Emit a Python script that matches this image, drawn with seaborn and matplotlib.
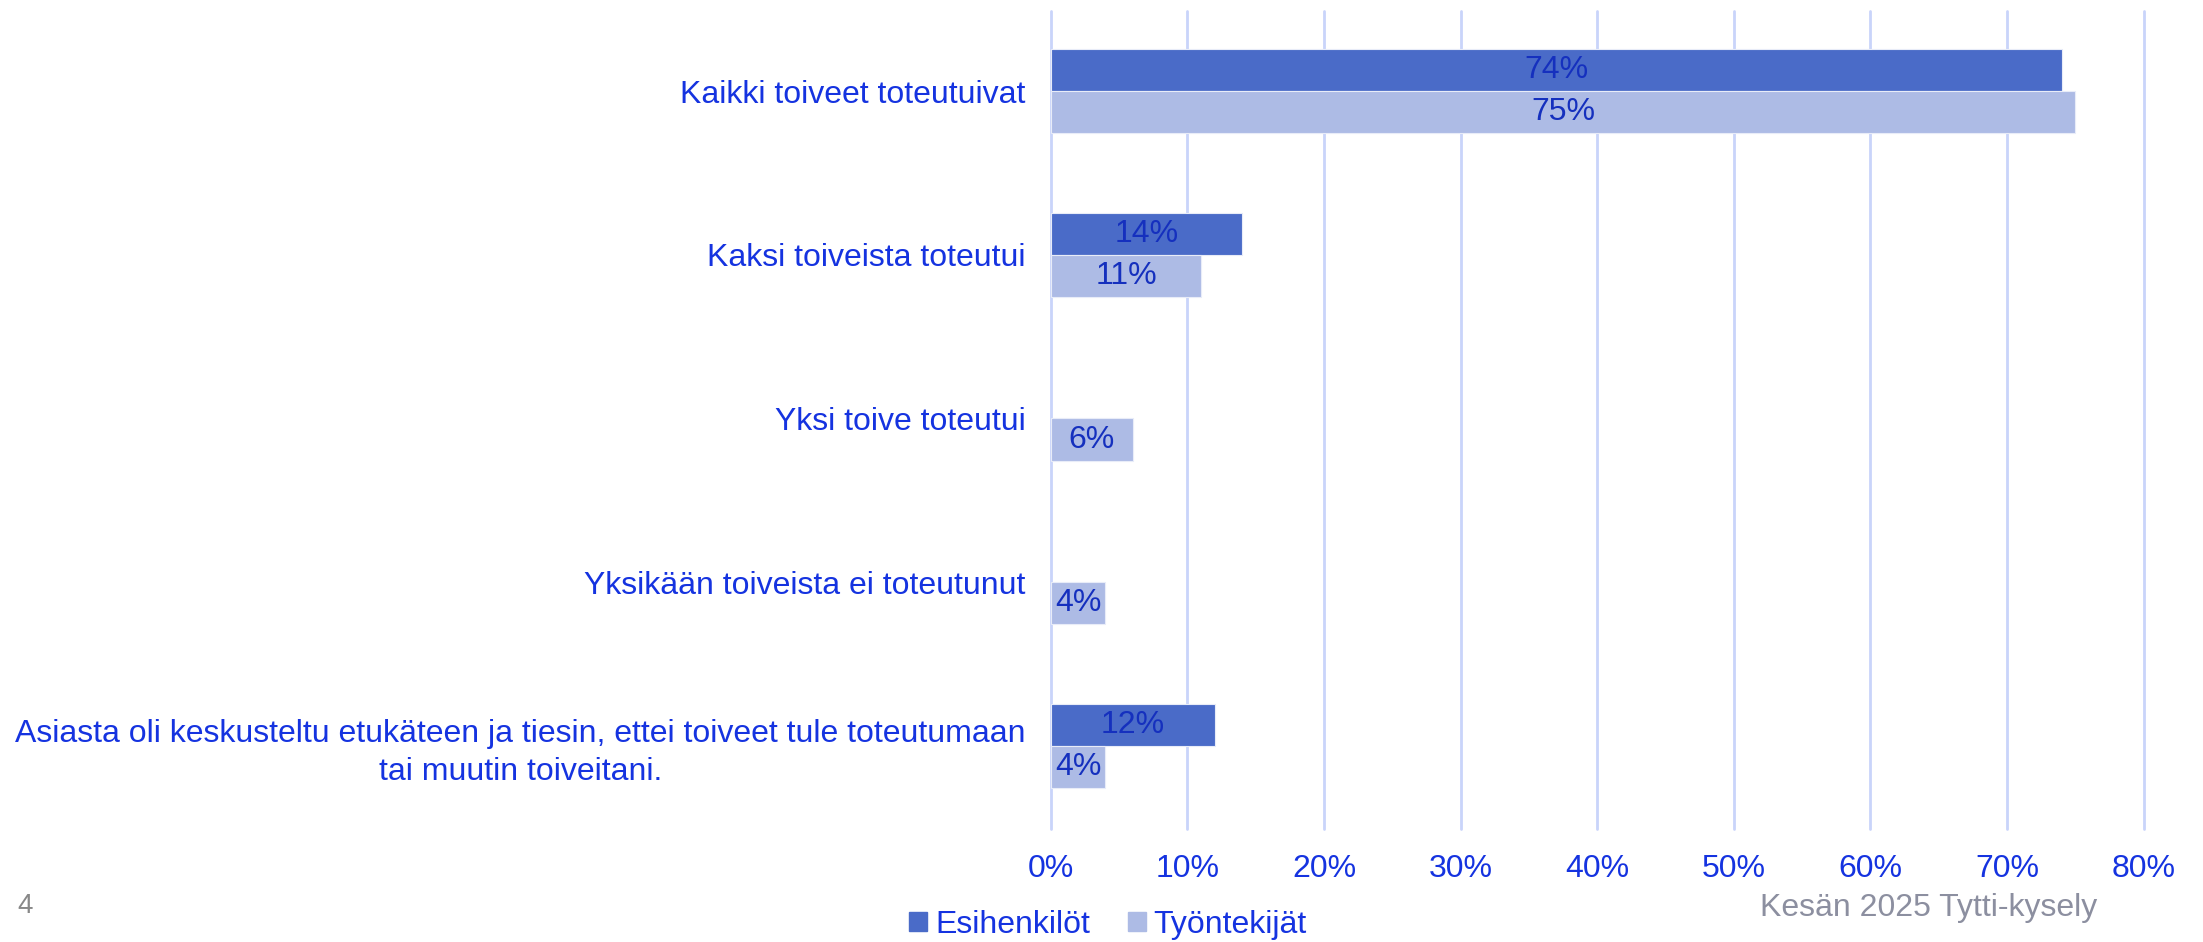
import numpy as np
import pandas as pd
import matplotlib
matplotlib.use("Agg")
import matplotlib.pyplot as plt
import matplotlib.patches as mpatches
import seaborn as sns

# --------- DATA ----------
categories = [
    "Kaikki toiveet toteutuivat",
    "Kaksi toiveista toteutui",
    "Yksi toive toteutui",
    "Yksikään toiveista ei toteutunut",
    "Asiasta oli keskusteltu etukäteen ja tiesin, ettei toiveet tule toteutumaan\ntai muutin toiveitani.",
]
esihenkilot = [74, 14, np.nan, np.nan, 12]
tyontekijat = [75, 11, 6, 4, 4]
series_names = ["Esihenkilöt", "Työntekijät"]
x_ticks = [0, 10, 20, 30, 40, 50, 60, 70, 80]

df = pd.DataFrame({
    "Kategoria": categories * 2,
    "Ryhmä": [series_names[0]] * len(categories) + [series_names[1]] * len(categories),
    "Osuus": esihenkilot + tyontekijat,
})

# --------- STYLE ----------
sns.set_style("white")
plt.rcParams["font.family"] = ["Liberation Sans", "DejaVu Sans"]

colors = {"Esihenkilöt": "#4A6BC8", "Työntekijät": "#ADBBE5"}
blue_text = "#1533E0"
label_text = "#1530BE"
grid_col = "#C9D4FA"

fig = plt.figure(figsize=(22.03, 9.42), dpi=100)
ax = fig.add_axes([0.477, 0.12, 0.496, 0.868])

sns.barplot(data=df, y="Kategoria", x="Osuus", hue="Ryhmä", order=categories,
            hue_order=series_names, palette=colors, saturation=1, width=0.514,
            orient="h", errorbar=None, legend=False, ax=ax, zorder=3,
            edgecolor="#E8ECF8", linewidth=0.8)

# --------- BAR LABELS ----------
for cont in ax.containers:
    labels = []
    for bar in cont:
        w = bar.get_width()
        labels.append("" if (np.isnan(w) or w == 0) else f"{w:.0f}%")
    ax.bar_label(cont, labels=labels, label_type="center", color=label_text, fontsize=23)

# --------- AXES ----------
ax.set_xlim(0, 80)
ax.set_ylim(4.51, -0.49)
ax.set_xticks(x_ticks)
ax.set_xticklabels([f"{t}%" for t in x_ticks])
ax.xaxis.grid(True, color=grid_col, linewidth=2, zorder=0, clip_on=False)
for gl in ax.get_xgridlines():
    gl.set_clip_on(False)
ax.set_axisbelow(True)
for s in ax.spines.values():
    s.set_visible(False)
ax.set_xlabel("")
ax.set_ylabel("")
ax.tick_params(axis="x", colors=blue_text, labelsize=23, length=0, pad=18)
ax.tick_params(axis="y", colors=blue_text, labelsize=23, length=0, pad=18)
for lbl in ax.get_yticklabels():
    lbl.set_multialignment("center")
    lbl.set_linespacing(1.35)

# --------- LEGEND & FOOTER ----------
handles = [mpatches.Patch(color=colors[n], label=n) for n in series_names]
fig.legend(handles=handles, loc="center", bbox_to_anchor=(0.503, 0.018), ncol=2,
           frameon=False, fontsize=23, labelcolor=blue_text, handlelength=0.55,
           handleheight=0.55, handletextpad=0.25, columnspacing=1.2)
fig.text(0.8755, 0.036, "Kesän 2025 Tytti-kysely", color="#8C8FA0", fontsize=23, ha="center", va="center")
fig.text(0.0115, 0.038, "4", color="#888888", fontsize=20, ha="center", va="center")

plt.savefig("out.png", dpi=100)
